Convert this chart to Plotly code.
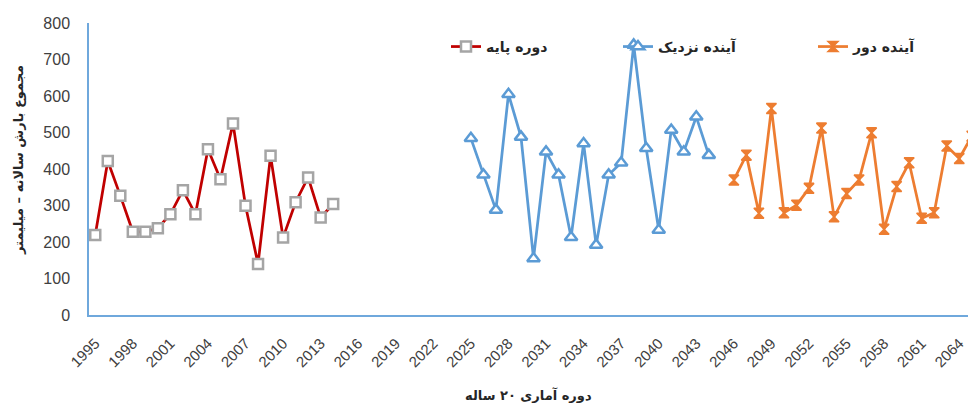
import plotly.graph_objects as go

base_years = list(range(1995, 2015))
base_vals = [219, 422, 327, 228, 228, 238, 276, 342, 276, 454, 372, 525, 299, 140, 436, 212, 309, 377, 267, 304]

near_years = list(range(2025, 2045))
near_vals = [484, 384, 288, 605, 488, 155, 447, 384, 213, 470, 192, 384, 417, 740, 457, 233, 507, 447, 543, 438]

far_years = list(range(2046, 2066))
far_vals = [370, 438, 279, 566, 280, 301, 347, 512, 269, 333, 370, 499, 235, 352, 417, 265, 280, 463, 429, 490]

tick_years = list(range(1995, 2065, 3))

name_base = "دوره پایه"
name_near = "آینده نزدیک"
name_far = "آینده دور"
y_title = "مجموع بارش سالانه – میلیمتر"
x_title = "دوره آماری ۲۰ ساله"

fig = go.Figure()
fig.add_trace(go.Scatter(
    x=base_years, y=base_vals, name=name_base, mode="lines+markers", legend="legend",
    line=dict(color="#C00000", width=2.75),
    marker=dict(symbol="square", size=10, color="white", line=dict(color="#A5A5A5", width=2.5)),
))
fig.add_trace(go.Scatter(
    x=near_years, y=near_vals, name=name_near, mode="lines+markers", legend="legend2",
    line=dict(color="#5B9BD5", width=2.75),
    marker=dict(symbol="triangle-up", size=11, color="white", line=dict(color="#5B9BD5", width=2.5)),
))
fig.add_trace(go.Scatter(
    x=far_years, y=far_vals, name=name_far, mode="lines+markers", legend="legend3",
    line=dict(color="#ED7D31", width=2.75),
    marker=dict(symbol="hourglass", size=10, color="#ED7D31", line=dict(color="#ED7D31", width=1.5)),
))

leg_font = dict(family="DejaVu Sans", size=14, color="#262626", weight="bold")
def leg(px):
    return dict(orientation="h", x=(px - 89) / 879, xanchor="left", y=0.918, yanchor="middle",
                font=leg_font, bgcolor="rgba(0,0,0,0)")

title_font = dict(family="DejaVu Sans", size=13, color="#262626", weight="bold")

fig.update_layout(
    width=968, height=407,
    margin=dict(l=89, r=0, t=23, b=92, autoexpand=False),
    paper_bgcolor="white", plot_bgcolor="white",
    font=dict(family="Liberation Sans, DejaVu Sans", color="#404040"),
    showlegend=True,
    legend=leg(446),
    legend2=leg(618),
    legend3=leg(813),
    xaxis=dict(
        range=[1994.5, 2064.7], tickmode="array", tickvals=tick_years,
        ticktext=[str(v) for v in tick_years], tickangle=-45,
        tickfont=dict(size=15, color="#404040"),
        showgrid=False, zeroline=False, showline=True, linecolor="#6FA8DC", linewidth=1.5,
        ticks="outside", ticklen=12, tickcolor="rgba(0,0,0,0)",
    ),
    yaxis=dict(
        range=[0, 800], tickvals=list(range(0, 801, 100)),
        tickfont=dict(size=16, color="#404040"),
        showgrid=False, zeroline=False, showline=True, linecolor="#6FA8DC", linewidth=1.5,
        ticks="outside", ticklen=14, tickcolor="rgba(0,0,0,0)",
    ),
    annotations=[
        dict(text=y_title, textangle=-90, xref="paper", yref="paper",
             x=(18 - 89) / 879, y=(315 - 160) / 292, xanchor="center", yanchor="middle",
             showarrow=False, font=title_font),
        dict(text=x_title, xref="paper", yref="paper",
             x=(528 - 89) / 879, y=(315 - 395) / 292, xanchor="center", yanchor="middle",
             showarrow=False, font=title_font),
    ],
)

fig.write_html("out.html")
